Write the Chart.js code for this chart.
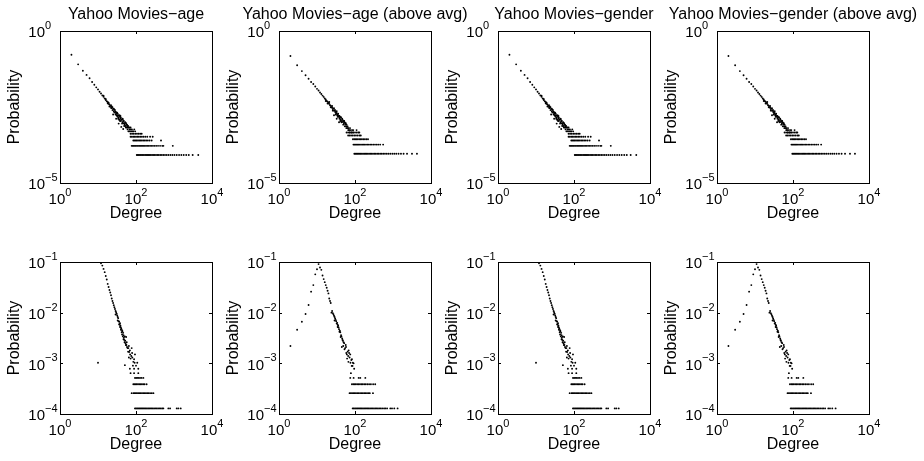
<!DOCTYPE html>
<html>
<head>
<meta charset="utf-8">
<script src="https://cdn.jsdelivr.net/npm/chart.js@4"></script>
<style>
  html, body { margin: 0; padding: 0; background: #fff; overflow: hidden; }
  #graficos { position: relative; width: 924px; height: 461px; overflow: hidden; }
  .painel { position: absolute; }
</style>
</head>
<body>
<div id="graficos"></div>
<script>
    // ticks dos eixos (so as decadas que aparecem com rotulo)
    const xTicks = [1, 100, 10000];
    const yTicksTopo = [1e-5, 1];
    const yTicksBaixo = [1e-4, 1e-3, 1e-2, 1e-1];

    const titulos = ['Yahoo Movies−age', 'Yahoo Movies−age (above avg)', 'Yahoo Movies−gender', 'Yahoo Movies−gender (above avg)'];

    // linha de cima - todos os usuarios: [grau, probabilidade]
    const topAllCurve = [[2,0.165],[3,0.080],[4,0.049],[5,0.036],[6,0.028],[7,0.021],[8,0.017],[9,0.014],[10,0.012],[11,0.010],
        [12,0.0088],[13,0.0076],[14,0.0069],[15,0.0060],[16,0.0054],[17,0.0049],[18,0.0046],[19,0.0040],[20,0.0038],[21,0.0034],
        [22,0.0036],[23,0.0029],[24,0.0031],[25,0.0027],[26,0.0023],[27,0.0026],[28,0.0021],[29,0.0022],[30,0.0019],[31,0.0017],
        [32,0.0020],[33,0.0015],[34,0.0017],[35,0.0014],[36,0.0016],[37,0.0012],[38,0.0015],[39,0.0013],[40,0.0011],[42,0.0012],
        [44,0.0010],[45,0.00125],[47,0.00092],[48,0.0011],[50,0.00083],[52,0.0010],[53,0.00075],[55,0.00092],[57,0.00067],[58,0.00083],
        [60,0.00058],[62,0.00075],[64,0.00067],[66,0.0005],[68,0.00058],[70,0.0005],[73,0.00058],[76,0.0005],[85,0.0005],[90,0.00058],
        [25,0.0018],[30,0.0013],[35,0.0009],[41,0.0007],[46,0.0006],
        [14,0.0075],[16,0.0058],[18,0.0042],[19,0.0044],[20,0.0033],[22,0.0030],[23,0.0033],[24,0.0025],[26,0.0028],[27,0.0021],
        [28,0.0025],[29,0.0018],[31,0.0021],[32,0.0016],[33,0.0019],[34,0.0013],[36,0.0012],[37,0.0017],[38,0.0011],[39,0.0016],
        [40,0.0014],[43,0.0009],[44,0.0013],[46,0.0011],[49,0.00075],[51,0.00092],[54,0.00067],[56,0.00083],[59,0.00075],[61,0.00067],
        [63,0.0005],[67,0.00067],[72,0.00067],[78,0.00058],[82,0.0005],[95,0.0005]];
    // faixas horizontais (1/N, 2/N, ...) e os graus que caem nelas
    const topAllRowP = [0.0000833, 0.000167, 0.00025, 0.000333, 0.000417];
    const topAllRowK = [
        [105,111,118,126,134,143,152,162,174,186,199,213,229,246,265,285,310,336,365,398,435,478,525,580,645,720,810,910,1030,
         1180,1360,1560,1800,2100,2450,3100,4350],
        [77,82,87,93,99,106,113,121,129,138,148,159,171,184,199,216,235,256,280,308,340,380,430,490,525,930],
        [85,91,98,105,113,122,132,143,156,170,186,205,228,258,455],
        [72,78,85,92,100,109,119,130,143,158,176,198,235,275],
        [72,79,87,96,106,117,129,141]
    ];

    // linha de cima - acima da media
    const topAvgCurve = [[2,0.15],[3,0.075],[4,0.048],[5,0.035],[6,0.027],[7,0.021],[8,0.018],[9,0.015],[10,0.0125],[11,0.011],
        [12,0.0095],[13,0.0085],[14,0.0075],[15,0.0068],[16,0.0060],[17,0.0056],[18,0.0050],[19,0.0047],[20,0.0043],[21,0.0040],
        [22,0.0036],[23,0.0035],[24,0.0031],[25,0.0030],[26,0.0027],[27,0.0028],[28,0.0024],[29,0.0025],[30,0.0022],[31,0.0021],
        [32,0.0019],[33,0.0020],[34,0.0017],[35,0.0018],[36,0.0016],[37,0.0015],[38,0.0016],[39,0.0013],[40,0.0014],[42,0.0012],
        [43,0.0014],[45,0.0011],[46,0.0013],[48,0.00101],[50,0.0011],[51,0.00092],[53,0.0010],[55,0.00083],[57,0.00092],[58,0.00073],
        [60,0.00083],[62,0.00064],[64,0.00073],[66,0.00055],[68,0.00064],[71,0.00055],[74,0.00064],[77,0.00055],[80,0.00046],[84,0.00055],
        [88,0.00046],[28,0.0017],[33,0.0013],[38,0.0010],
        [17,0.0050],[19,0.0041],[21,0.0046],[23,0.0031],[25,0.0034],[26,0.0024],[28,0.0029],[30,0.0025],[31,0.0018],[33,0.0023],
        [35,0.0015],[36,0.0019],[39,0.0016],[41,0.0011],[42,0.0015],[44,0.0010],[47,0.0012],[49,0.00083],[52,0.0011],[54,0.00073],
        [56,0.00092],[59,0.00064],[61,0.00073],[65,0.00064],[69,0.00055],[73,0.00046],[90,0.00055],[110,0.00055],[130,0.00046]];
    const topAvgRowP = [0.0000917, 0.000183, 0.000275, 0.000367, 0.000459];
    const topAvgRowK = [
        [96,102,109,116,124,133,142,152,163,175,188,202,218,235,254,275,298,324,352,384,420,460,505,555,615,685,760,850,960,
         1080,1220,1400,1620,1900,2340,3160,4270],
        [91,97,103,110,117,125,134,144,155,167,180,195,212,231,252,276,304,336,372,410,460,550],
        [88,95,102,110,119,129,140,152,166,182,200,220],
        [66,72,79,87,96,106,118,132,142],
        [60,66,73,81,90,100,111,122]
    ];

    // linha de baixo - todos os usuarios
    const botAllCurve = [[10,0.00103],[11,0.1],[12,0.094],[13,0.085],[14,0.073],[15,0.063],[16,0.053],[17,0.045],[18,0.037],[19,0.032],
        [20,0.028],[21,0.025],[22,0.022],[23,0.019],[24,0.017],[25,0.0155],[26,0.014],[27,0.0128],[28,0.0118],[29,0.0108],
        [30,0.0102],[31,0.0095],[32,0.0088],[33,0.0082],[34,0.0078],[35,0.0068],[36,0.0066],[37,0.0058],[38,0.0052],[39,0.0055],
        [40,0.0046],[41,0.0048],[42,0.0041],[43,0.0037],[44,0.0043],[45,0.0034],[46,0.0040],[47,0.0030],[48,0.0032],[50,0.0026],
        [51,0.0034],[52,0.0028],[54,0.0023],[55,0.0033],[56,0.0023],[58,0.0021],[60,0.0020],[63,0.0020],[66,0.00167],[69,0.0018],
        [72,0.00124],[75,0.0014],[77,0.0020],[80,0.0013],[85,0.00107],[89,0.0012],[94,0.0015],[108,0.00103],[51,0.00092],
        [69,0.00078],[89,0.00078],[115,0.00078],[72,0.00064],[89,0.00064],[115,0.00064],
        [29,0.0092],[33,0.0070],[36,0.0059],[38,0.0062],[40,0.0051],[43,0.0045],[47,0.0036],[49,0.0029],[53,0.0025],[57,0.0026],
        [62,0.0017],[65,0.0022],[70,0.0015],[79,0.0016],[83,0.0009],[92,0.00103],[100,0.00090],[65,0.0013]];
    const botAllRowP = [0.000129, 0.000258, 0.000387, 0.000516];
    const botAllRowK = [
        [94,100,107,114,122,130,139,148,158,169,181,194,208,223,240,258,278,300,325,352,382,415,450,490,525,710,790,1180,1300,1500],
        [77,86,92,99,106,114,123,133,144,156,169,183,198,215,235,260,287],
        [85,91,98,105,113,122,132,143,155,168,190],
        [94,101,109,118,128,140,156]
    ];

    // linha de baixo - acima da media
    const botAvgCurve = [[2,0.0022],[3,0.0046],[4,0.0066],[5,0.0094],[6,0.0142],[7,0.026],[8,0.035],[9,0.057],[10,0.072],[11,0.091],
        [12,0.078],[13,0.070],[14,0.054],[15,0.046],[16,0.040],[17,0.035],[18,0.031],[19,0.027],[20,0.024],[21,0.019],
        [22,0.017],[23,0.0155],[25,0.0108],[26,0.0098],[27,0.0093],[28,0.0087],[29,0.0082],[30,0.0077],[31,0.0072],[32,0.0068],
        [34,0.0063],[35,0.0058],[36,0.0055],[37,0.0051],[38,0.0047],[40,0.0044],[41,0.0041],[43,0.0036],[44,0.0034],[46,0.0031],
        [48,0.0028],[50,0.0026],[52,0.0025],[45,0.0021],[55,0.0020],[57,0.0023],[59,0.0016],[62,0.00124],[64,0.0017],[67,0.00107],
        [68,0.0018],[72,0.0013],[75,0.0015],[78,0.00064],[80,0.00116],[83,0.0012],[86,0.00089],[88,0.00103],[92,0.0010],[95,0.00078],
        [24,0.0100],[29,0.0070],[33,0.0061],[35,0.0052],[39,0.0042],[42,0.0033],[47,0.0029],[49,0.0022],[53,0.0019],[58,0.0021],
        [61,0.0015],[66,0.0014],[70,0.0016],[76,0.00103],[82,0.00089]];
    const botAvgRowP = [0.000129, 0.000258, 0.000387, 0.000516];
    const botAvgRowK = [
        [87,93,100,107,115,123,132,141,151,162,174,187,201,216,232,250,270,292,316,342,370,401,435,475,520,580,630,700,850,940,1080,1320],
        [72,78,84,91,98,106,115,125,136,148,161,175,190,207,225,245,297],
        [83,90,97,105,114,124,135,147,160,175,192,212,235,262,300,340],
        [75,92,125,138,187]
    ];

    const fonte = "'Liberation Sans', Arial, Helvetica, sans-serif";
    Chart.defaults.color = '#000';
    Chart.defaults.font.family = fonte;
    Chart.defaults.font.size = 16;

    // junta a curva e as faixas em pontos {x, y}
    function montarPontos(curva, linhasP, linhasK) {
        const pts = curva.map(([k, p]) => ({ x: k, y: p }));
        linhasP.forEach((p, i) => linhasK[i].forEach(k => pts.push({ x: k, y: p })));
        return pts;
    }

    // escreve "10" com o expoente em cima, estilo matlab
    function potencia(ctx, v, x, base, centrado) {
        const e = Math.round(Math.log10(v));
        const exp = e < 0 ? '−' + (-e) : String(e);
        ctx.font = '15px ' + fonte;
        const w10 = ctx.measureText('10').width;
        ctx.font = '11px ' + fonte;
        const wE = ctx.measureText(exp).width;
        const x0 = centrado ? x - (w10 + wE) / 2 : x;
        ctx.font = '15px ' + fonte;
        ctx.fillText('10', x0, base);
        ctx.font = '11px ' + fonte;
        ctx.fillText(exp, x0 + w10, base - 8.5);
    }

    // caixa preta em volta, tracinhos para dentro e rotulos 10^n
    const moldura = {
        id: 'moldura',
        afterDraw(chart, args, opts) {
            const { ctx, chartArea: a } = chart;
            const xs = chart.scales.x, ys = chart.scales.y;
            ctx.save();
            ctx.strokeStyle = '#000';
            ctx.lineWidth = 1;
            ctx.strokeRect(a.left + 0.5, a.top + 0.5, a.right - a.left, a.bottom - a.top);
            ctx.beginPath();
            opts.xTicks.forEach(v => {
                const px = Math.round(xs.getPixelForValue(v)) + 0.5;
                ctx.moveTo(px, a.bottom); ctx.lineTo(px, a.bottom - 3);
                ctx.moveTo(px, a.top); ctx.lineTo(px, a.top + 3);
            });
            opts.yTicks.forEach(v => {
                const py = Math.round(ys.getPixelForValue(v)) + 0.5;
                ctx.moveTo(a.left, py); ctx.lineTo(a.left + 3, py);
                ctx.moveTo(a.right, py); ctx.lineTo(a.right - 3, py);
            });
            ctx.stroke();
            ctx.fillStyle = '#000';
            ctx.textBaseline = 'alphabetic';
            ctx.textAlign = 'left';
            opts.xTicks.forEach(v => potencia(ctx, v, xs.getPixelForValue(v), a.bottom + 21, true));
            opts.yTicks.forEach(v => potencia(ctx, v, a.left - 31.7, ys.getPixelForValue(v) + 6.4, false));
            ctx.restore();
        }
    };

    const paineis = [
        { left: 0,   top: 0,   titulo: titulos[0], curva: topAllCurve, rowP: topAllRowP, rowK: topAllRowK, ymin: 1e-5, ymax: 1, yTicks: yTicksTopo },
        { left: 219, top: 0,   titulo: titulos[1], curva: topAvgCurve, rowP: topAvgRowP, rowK: topAvgRowK, ymin: 1e-5, ymax: 1, yTicks: yTicksTopo },
        { left: 438, top: 0,   titulo: titulos[2], curva: topAllCurve, rowP: topAllRowP, rowK: topAllRowK, ymin: 1e-5, ymax: 1, yTicks: yTicksTopo },
        { left: 657, top: 0,   titulo: titulos[3], curva: topAvgCurve, rowP: topAvgRowP, rowK: topAvgRowK, ymin: 1e-5, ymax: 1, yTicks: yTicksTopo },
        { left: 0,   top: 231, titulo: '', curva: botAllCurve, rowP: botAllRowP, rowK: botAllRowK, ymin: 1e-4, ymax: 1e-1, yTicks: yTicksBaixo },
        { left: 219, top: 231, titulo: '', curva: botAvgCurve, rowP: botAvgRowP, rowK: botAvgRowK, ymin: 1e-4, ymax: 1e-1, yTicks: yTicksBaixo },
        { left: 438, top: 231, titulo: '', curva: botAllCurve, rowP: botAllRowP, rowK: botAllRowK, ymin: 1e-4, ymax: 1e-1, yTicks: yTicksBaixo },
        { left: 657, top: 231, titulo: '', curva: botAvgCurve, rowP: botAvgRowP, rowK: botAvgRowK, ymin: 1e-4, ymax: 1e-1, yTicks: yTicksBaixo }
    ];

    paineis.forEach(p => {
        const cv = document.createElement('canvas');
        cv.width = 272;
        cv.height = 230;
        cv.className = 'painel';
        cv.style.left = p.left + 'px';
        cv.style.top = p.top + 'px';
        document.getElementById('graficos').appendChild(cv);

        new Chart(cv, {
            type: 'scatter',
            data: {
                datasets: [{
                    data: montarPontos(p.curva, p.rowP, p.rowK),
                    pointRadius: 0.95,
                    pointHoverRadius: 0.95,
                    backgroundColor: '#000',
                    borderWidth: 0
                }]
            },
            options: {
                responsive: false,
                animation: false,
                events: [],
                layout: { padding: { top: p.titulo ? 0 : 31, left: 0, right: 0, bottom: 0 } },
                plugins: {
                    legend: { display: false },
                    tooltip: { enabled: false },
                    title: { display: !!p.titulo, text: p.titulo, color: '#000', font: { size: 16, weight: 'normal' }, padding: { top: 4.6, bottom: 7.2 } },
                    moldura: { xTicks: xTicks, yTicks: p.yTicks }
                },
                scales: {
                    x: {
                        type: 'logarithmic', min: 1, max: 10000, position: 'bottom',
                        ticks: { display: false }, grid: { display: false }, border: { display: false },
                        title: { display: true, text: 'Degree', color: '#000', font: { size: 16 }, padding: { top: 0, bottom: 7.2 } },
                        afterFit(s) { s.height = 47; }
                    },
                    y: {
                        type: 'logarithmic', min: p.ymin, max: p.ymax, position: 'left',
                        ticks: { display: false }, grid: { display: false }, border: { display: false },
                        title: { display: true, text: 'Probability', color: '#000', font: { size: 16 }, padding: { top: 4.6, bottom: 0 } },
                        afterFit(s) { s.width = 60; }
                    },
                    // eixo fantasma a direita so para centralizar o titulo sobre o grafico
                    yr: {
                        type: 'linear', position: 'right',
                        ticks: { display: false }, grid: { display: false }, border: { display: false },
                        afterFit(s) { s.width = 60; }
                    }
                }
            },
            plugins: [moldura]
        });
    });
</script>
</body>
</html>
